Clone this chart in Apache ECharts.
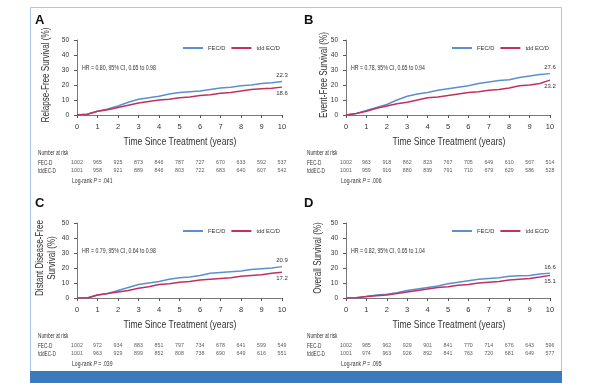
<!DOCTYPE html>
<html><head><meta charset="utf-8">
<script src="https://cdn.jsdelivr.net/npm/echarts@6/dist/echarts.min.js"></script>
<style>html,body{margin:0;padding:0;background:#fff}#c{width:589px;height:383px}</style>
</head><body><div id="c"></div>
<script>
const years = [0,0.5,1,1.5,2,2.5,3,3.5,4,4.5,5,5.5,6,6.5,7,7.5,8,8.5,9,9.5,10];
const riskYears = [0,1,2,3,4,5,6,7,8,9,10];
const yTicks = [0,10,20,30,40,50];

const panelLetters = ['A','B','C','D'];
const yTitles = ['Relapse-Free Survival (%)','Event-Free Survival (%)','Distant Disease-Free\nSurvival (%)','Overall Survival (%)'];
const hrTexts = ['HR = 0.80, 95% CI, 0.65 to 0.98','HR = 0.78, 95% CI, 0.65 to 0.94','HR = 0.79, 95% CI, 0.64 to 0.98','HR = 0.82, 95% CI, 0.65 to 1.04'];
const logRank = ['.041','.006','.039','.095'];
const seriesNames = ['FEC/D','tdd EC/D'];
const rowLabels = ['FEC-D','tddEC-D'];

const fecA = [0,0.5,2.5,4,6,8.5,10.5,11.5,12.5,14,15,15.5,16,17,18,18.5,19.5,20,21,21.5,22.3];
const tddA = [0,0.5,2.5,3.5,5,6.5,8,9,10,10.5,11.5,12,13,13.5,14.5,15,16,17,17.5,17.8,18.6];
const fecB = [0,1,3,5,7,10,12.5,14,15,16.5,17.5,18.5,19.5,21,22,23,23.5,25,26,27,27.6];
const tddB = [0,1,2.5,4.5,6,7.5,8.5,10,11.5,12,13,14,15,15.5,16.5,17,18,19.5,20,21,23.2];
const fecC = [0,0,2,3,5,7,9,10,11,12.5,13.5,14,15,16.5,17,17.5,18,19,19.5,20,20.9];
const tddC = [0,0,2,3,4,5,6.5,7.5,9,9.5,10.5,11,12,12.5,13,13.5,14.5,15,15.5,16.5,17.2];
const fecD = [0,0.2,1,2,2.5,3.5,5,6,7,8,9.5,10.5,11.5,12.5,13,13.5,14.5,14.8,15,16,16.6];
const tddD = [0,0.2,1,1.5,2,3,4,5,6,7,7.5,8.5,9,10,10.5,11,12,12.5,13,14,15.1];

const riskFecA = [1002,965,925,873,846,787,727,670,633,592,537];
const riskTddA = [1001,958,921,889,846,803,722,683,640,607,542];
const riskFecB = [1002,963,918,862,823,767,705,649,610,567,514];
const riskTddB = [1001,959,916,880,839,791,710,679,629,586,528];
const riskFecC = [1002,972,934,883,851,797,734,678,641,599,549];
const riskTddC = [1001,963,929,899,852,808,738,690,649,616,551];
const riskFecD = [1002,985,962,929,901,841,770,714,676,643,596];
const riskTddD = [1001,974,963,926,892,841,763,720,681,649,577];

const fec = [fecA,fecB,fecC,fecD];
const tdd = [tddA,tddB,tddC,tddD];
const riskFec = [riskFecA,riskFecB,riskFecC,riskFecD];
const riskTdd = [riskTddA,riskTddB,riskTddC,riskTddD];

const BLUE = '#5a8fd0', RED = '#c2305e', AX = '#555', TXT = '#333';
const FONT = 'Liberation Sans, Arial, sans-serif';
const SX = 0.78;

const panels = [
  {left:77, plotRight:282, top:40, ox:0, oy:0, tx:46},
  {left:346, plotRight:550, top:40, ox:269, oy:0, tx:324},
  {left:77, plotRight:282, top:223, ox:0, oy:183, tx:46},
  {left:346, plotRight:550, top:223, ox:269, oy:183, tx:318}
];

const grid=[], xAxis=[], yAxis=[], series=[], legend=[], graphic=[];
graphic.push({type:'rect', shape:{x:30.5,y:7.5,width:531,height:380}, style:{fill:'none', stroke:'#a9c7e6', lineWidth:1}});
graphic.push({type:'rect', shape:{x:30,y:371,width:532,height:12}, style:{fill:'#3b7bbd'}});

panels.forEach((p,i)=>{
  const gi = grid.length;
  grid.push({left:p.left, width:p.plotRight-p.left, top:p.top, height:75});
  xAxis.push({gridIndex:gi, type:'value', min:0, max:10, interval:1, offset:4,
    axisLine:{lineStyle:{color:AX, width:0.8}}, axisTick:{length:3, lineStyle:{color:AX}},
    axisLabel:{fontSize:7.5, color:TXT, margin:4, fontFamily:FONT}, splitLine:{show:false}});
  yAxis.push({gridIndex:gi, type:'value', min:0, max:50, interval:10, offset:4,
    axisLine:{show:true, lineStyle:{color:AX, width:0.8}}, axisTick:{show:true, length:3, lineStyle:{color:AX}},
    axisLabel:{fontSize:6.5, color:TXT, margin:4, fontFamily:FONT}, splitLine:{show:false}});
  const mk = (arr, name, color, pos) => ({
    type:'line', name, xAxisIndex:gi, yAxisIndex:gi, symbol:'none', lineStyle:{color, width:1.4}, itemStyle:{color},
    data: arr.map((v,k)=> k===arr.length-1 ? {value:[years[k],v], symbol:'circle', symbolSize:0.1,
      label:{show:true, position:pos, formatter: String(v.toFixed(1)), fontSize:6, color:TXT, fontFamily:FONT, distance:3}} : [years[k],v]),
    silent:true, animation:false
  });
  series.push(mk(fec[i], seriesNames[0], BLUE, 'top'));
  series.push(mk(tdd[i], seriesNames[1], RED, 'bottom'));
  legend.push({left:p.ox+178, top:p.oy+40, itemWidth:20, itemHeight:2, itemGap:6, icon:'rect', selectedMode:false,
    data:seriesNames, textStyle:{fontSize:5.8, color:TXT, fontFamily:FONT}});

  const ri = grid.length;
  grid.push({left:p.left, width:p.plotRight-p.left, top:p.top+119, height:16});
  xAxis.push({gridIndex:ri, type:'value', min:0, max:10, show:false});
  yAxis.push({gridIndex:ri, type:'category', data:[rowLabels[1], rowLabels[0]], show:false});
  const rk = (arr, row) => ({type:'scatter', xAxisIndex:ri, yAxisIndex:ri, symbolSize:0, silent:true, animation:false,
    data: arr.map((v,k)=>[riskYears[k], row, v]),
    label:{show:true, position:'inside', formatter:(d)=>String(d.value[2]), fontSize:5.3, color:TXT, fontFamily:FONT}});
  series.push(rk(riskFec[i], rowLabels[0]));
  series.push(rk(riskTdd[i], rowLabels[1]));

  const tx = (x,y,text,extra,sx) => graphic.push({type:'text', x:x, y:y, scaleX:sx||SX,
    style:Object.assign({text, fill:TXT, font:'6.5px '+FONT, textVerticalAlign:'middle'}, extra||{})});
  tx(p.ox+35, p.oy+20, panelLetters[i], {font:'bold 13px '+FONT, fill:'#111'}, 1);
  tx(p.ox+82, p.oy+68, hrTexts[i], {font:'6.5px '+FONT}, 0.8);
  tx(p.ox+180, p.oy+142, 'Time Since Treatment (years)', {font:'11px '+FONT, textAlign:'center'});
  tx(p.ox+38, p.oy+153, 'Number at risk', {font:'6.5px '+FONT}, 0.72);
  tx(p.ox+38, p.oy+163, rowLabels[0], {font:'6.5px '+FONT}, 0.72);
  tx(p.ox+38, p.oy+171, rowLabels[1], {font:'6.5px '+FONT}, 0.72);
  graphic.push({type:'text', x:p.ox+72, y:p.oy+181, scaleX:0.78, style:{rich:{a:{font:'6.5px '+FONT, fill:TXT}, b:{font:'italic 6.5px '+FONT, fill:TXT}},
    text:'{a|Log-rank }{b|P}{a| = '+logRank[i]+'}', textVerticalAlign:'middle'}});
  graphic.push({type:'text', x:p.tx, y:p.oy+75, rotation:Math.PI/2, scaleX:0.77,
    style:{text:yTitles[i], font:'10.5px '+FONT, fill:TXT, textAlign:'center', textVerticalAlign:'middle', lineHeight:12}});
});

const chart = echarts.init(document.getElementById('c'), null, {renderer:'canvas'});
chart.setOption({backgroundColor:'#fff', animation:false, grid, xAxis, yAxis, series, legend, graphic});
</script></body></html>
